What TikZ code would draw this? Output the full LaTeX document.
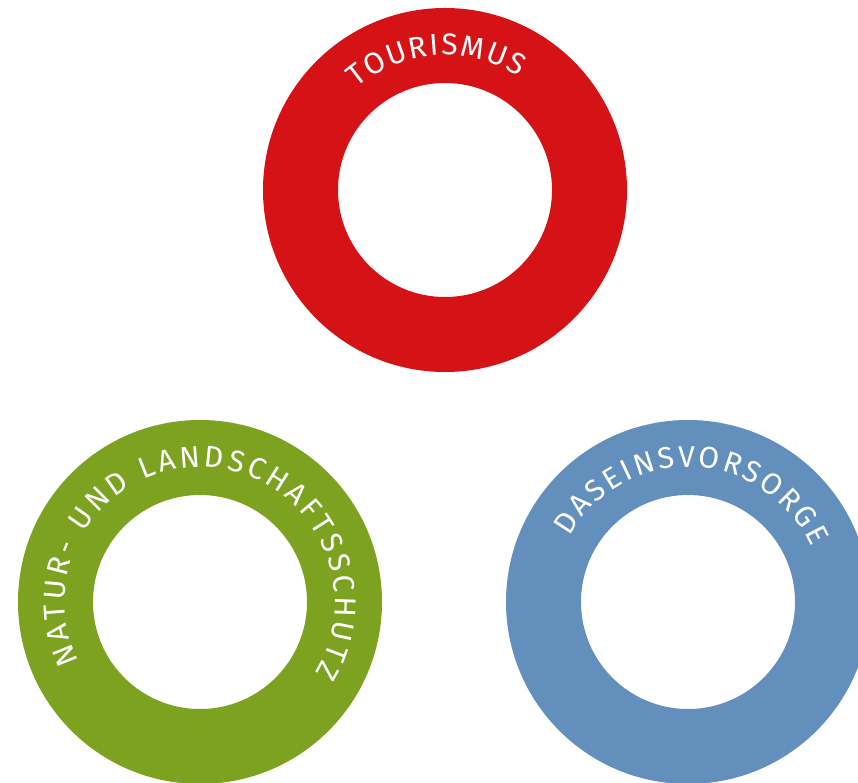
\documentclass[tikz,border=0pt]{standalone}
\usepackage{fontspec}
\setmainfont{Fira Sans}
\usetikzlibrary{decorations.text,calc}

\definecolor{tourred}{RGB}{213,19,23}
\definecolor{natgreen}{RGB}{124,162,31}
\definecolor{dablue}{RGB}{99,143,188}

\newcommand\ringfont{\color{white}\fontsize{30}{30}\selectfont}

\begin{document}
\begin{tikzpicture}[x=1pt,y=1pt,
  ring/.style={circle, minimum size=289pt, inner sep=0pt, line width=75pt},
  ringtext/.style={decorate, decoration={text along path, text align=fit to path, text={|\ringfont|#1}}}]
\useasboundingbox (0,0) rectangle (858,782);

\node[ring, draw=tourred] (tourismus) at (445,592) {};
\node[ring, draw=natgreen] (natur) at (200,180) {};
\node[ring, draw=dablue] (daseins) at (688,180) {};

\path[ringtext=TOURISMUS] ($(tourismus)+(131:135)$) arc[start angle=131, end angle=57, radius=135];
\path[ringtext=NATUR- UND LANDSCHAFTSSCHUTZ] ($(natur)+(206:135)$) arc[start angle=206, end angle=-32, radius=135];
\path[ringtext=DASEINSVORSORGE] ($(daseins)+(151:135)$) arc[start angle=151, end angle=24, radius=135];
\end{tikzpicture}
\end{document}
